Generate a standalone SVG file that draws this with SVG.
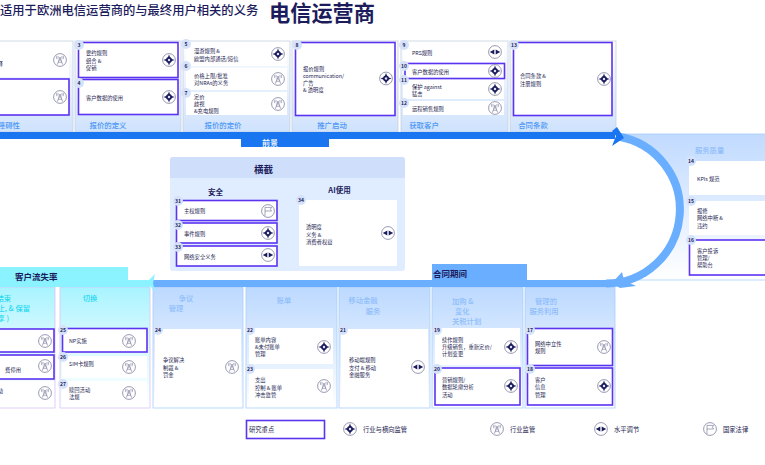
<svg xmlns="http://www.w3.org/2000/svg" width="765" height="465" viewBox="0 0 765 465">
<style>
text{font-family:"Noto Sans CJK SC","Liberation Sans",sans-serif;fill:#23234f}
.t{font-size:5.3px}
.g{font-size:6.3px}
.n{font-size:5px;font-weight:700;text-anchor:middle;fill:#1c1c5c}
.l{font-size:7.4px;font-weight:500;fill:#4c97f5;text-anchor:middle}
.s{font-size:7.3px;font-weight:500;fill:#8fbdfa}
.c{font-size:7.3px;font-weight:500;fill:#28d8f0}
.h{font-size:8.5px;font-weight:700;fill:#1c1c5c}
.w{fill:#fff}
.p{fill:#fff;stroke:#5b33f0;stroke-width:1.6}
.b{fill:#d6e2f9}
.ic{fill:#fff;stroke:#55557f;stroke-width:.6}
.tw{fill:none;stroke:#6b6b90;stroke-width:.6}
</style>
<defs>
<linearGradient id="gt" x1="0" y1="0" x2="0" y2="1"><stop offset="0" stop-color="#fff"/><stop offset="1" stop-color="#cfe2fd"/></linearGradient>
<linearGradient id="gb" x1="0" y1="0" x2="0" y2="1"><stop offset="0" stop-color="#bcd9ff"/><stop offset=".35" stop-color="#d3e6ff"/><stop offset="1" stop-color="#fff"/></linearGradient>
<linearGradient id="gc" x1="0" y1="0" x2="0" y2="1"><stop offset="0" stop-color="#a8f4ff"/><stop offset=".35" stop-color="#cff8ff"/><stop offset="1" stop-color="#fff"/></linearGradient>
<linearGradient id="gr" x1="0" y1="0" x2="0" y2="1"><stop offset="0" stop-color="#c0daff"/><stop offset="1" stop-color="#fff"/></linearGradient>
<symbol id="cmp" viewBox="-7 -7 14 14" overflow="visible"><circle class="ic" r="6.4"/><path fill="#1c1c5c" d="M0-5.6L1.5-1.5 5.6 0 1.5 1.5 0 5.6-1.5 1.5-5.6 0-1.5-1.5Z"/><circle r="2.9" fill="#1c1c5c"/><circle r="1.2" fill="#dfe6fb"/></symbol>
<symbol id="twr" viewBox="-7 -7 14 14" overflow="visible"><circle class="ic" r="6.4"/><path class="tw" d="M0-3L-2.6 4.6M0-3L2.6 4.6M-1.9 2.2H1.9M-1.2 0H1.2M-3-4.2A3.2 3.2 0 0 0-3-.8M3-4.2A3.2 3.2 0 0 1 3-.8M-1.7-3.7A2 2 0 0 0-1.7-1.6M1.7-3.7A2 2 0 0 1 1.7-1.6"/></symbol>
<symbol id="hor" viewBox="-7 -7 14 14" overflow="visible"><circle class="ic" r="6.4"/><path fill="#1c1c5c" d="M-5.2 0L-.7-2.6V2.6ZM5.2 0L.7-2.6V2.6Z"/></symbol>
<symbol id="flg" viewBox="-7 -7 14 14" overflow="visible"><circle class="ic" r="6.4"/><path class="tw" d="M-3 5V-3.6H3.6L2.4-1.8 3.6 0H-3"/></symbol>
</defs>
<rect width="765" height="465" fill="#fff"/>
<text x="0" y="14.5" style="font-size:12.3px;font-weight:500;fill:#1c1c5c">适用于欧洲电信运营商的与最终用户相关的义务</text>
<text x="269" y="21" style="font-size:21.2px;font-weight:700;fill:#1c1c5c">电信运营商</text>

<g id="panels" stroke="#c5cfe0" stroke-width=".8">
<rect x="-5" y="41" width="78" height="91" fill="url(#gt)"/>
<rect x="75" y="41" width="106" height="91" fill="url(#gt)"/>
<rect x="183" y="41" width="107" height="91" fill="url(#gt)"/>
<rect x="292" y="41" width="106" height="91" fill="url(#gt)"/>
<rect x="401" y="41" width="107" height="91" fill="url(#gt)"/>
<rect x="510" y="41" width="106" height="91" fill="url(#gt)"/>
</g>
<rect x="624" y="134" width="146" height="146" fill="url(#gr)" stroke="#a9cdfb" stroke-width=".8"/>
<g stroke-width=".8">
<rect x="-5" y="287" width="60" height="121" fill="url(#gc)" stroke="#d9c4f5"/>
<rect x="60" y="287" width="90" height="121" fill="url(#gc)" stroke="#d9c4f5"/>
<rect x="153" y="287" width="90" height="121" fill="url(#gb)" stroke="#a9cdfb"/>
<rect x="246" y="287" width="91" height="121" fill="url(#gb)" stroke="#a9cdfb"/>
<rect x="339" y="287" width="91" height="121" fill="url(#gb)" stroke="#a9cdfb"/>
<rect x="432" y="287" width="91" height="121" fill="url(#gb)" stroke="#a9cdfb"/>
<rect x="525" y="287" width="90" height="121" fill="url(#gb)" stroke="#a9cdfb"/>
</g>

<g id="column-labels">
<text class="l" x="20" y="128" style="text-anchor:end">障碍性</text>
<text class="l" x="108" y="128">报价的定义</text>
<text class="l" x="223" y="128">报价的定价</text>
<text class="l" x="332" y="128">推广启动</text>
<text class="l" x="424" y="128">获取客户</text>
<text class="l" x="533" y="128">合同条款</text>
<text class="s" x="695" y="153">服务质量</text>
<text class="c" x="11" y="301" style="text-anchor:end">结束</text>
<text class="c" x="30" y="311" style="text-anchor:end">止, &amp; 保留</text>
<text class="c" x="9" y="321" style="text-anchor:end">享 )</text>
<text class="c" x="90" y="301" style="text-anchor:middle">切换</text>
<text class="s" x="186" y="301" style="text-anchor:middle">争议</text>
<text class="s" x="176" y="311" style="text-anchor:middle">管理</text>
<text class="s" x="284" y="303" style="text-anchor:middle">账单</text>
<text class="s" x="363" y="303" style="text-anchor:middle">移动金融</text>
<text class="s" x="373" y="314" style="text-anchor:middle">服务</text>
<text class="s" x="452" y="304">加购 &amp;</text>
<text class="s" x="455" y="314">变化</text>
<text class="s" x="452" y="324">关税计划</text>
<text class="s" x="546" y="304" style="text-anchor:middle">管理的</text>
<text class="s" x="544" y="314" style="text-anchor:middle">服务利用</text>
</g>

<g id="connectors">
<path d="M618 136.500A74 74 0 0 1 606 283.500" fill="#fff" stroke="#6aaeff" stroke-width="8"/>
<path d="M154 283.500H608" fill="none" stroke="#6aaeff" stroke-width="7" stroke-linecap="round"/>
<path d="M622 272L624 280 636 286 620 288 612 283Z" fill="#6aaeff"/>
<path d="M0 135.500H615" fill="none" stroke="#1a76f0" stroke-width="7"/>
<path d="M617 127L624 138 612 146 616 136 612 131Z" fill="#1a76f0"/>
<path d="M0 283.500H150" fill="none" stroke="#8af3ff" stroke-width="7"/>
<path d="M155 274L147 282 155 292 153 283Z" fill="#8af3ff"/>
</g>

<g id="band-tabs">
<rect x="241" y="139" width="88" height="8" fill="#1a76f0"/><text x="262" y="145.500" style="font-size:8px;font-weight:500;fill:#fff">前景</text>
<rect x="432" y="264" width="95" height="20" fill="#6aaeff"/><text x="433" y="277" class="h">合同期间</text>
<rect x="-2" y="267" width="130" height="16" fill="#8af3ff"/><text x="15" y="280" class="h">客户流失率</text>
</g>

<g id="n1"><rect class="w" x="-5" y="42" width="74" height="35"/><text class="t" x="3" y="66" style="text-anchor:end">择</text><use href="#twr" x="53" y="53" width="14" height="14"/></g>
<g id="n2"><rect class="p" x="-5" y="79" width="74" height="36"/><use href="#twr" x="53" y="90" width="14" height="14"/></g>
<g id="n3"><rect class="p" x="78.500" y="42.500" width="99.500" height="35"/><circle class="b" cx="79" cy="45" r="5"/><text class="n" x="79" y="47">3</text><text class="t" x="86" y="55">要约规则</text><text class="t" x="86" y="63">组合 &amp;</text><text class="t" x="86" y="70">促销</text><use href="#cmp" x="162" y="53" width="14" height="14"/></g>
<g id="n4"><rect class="p" x="78.500" y="79.500" width="99.500" height="35"/><circle class="b" cx="79" cy="83" r="5"/><text class="n" x="79" y="85">4</text><text class="t" x="86" y="99.500">客户数据的使用</text><use href="#cmp" x="162" y="90" width="14" height="14"/></g>
<g id="n5"><rect class="w" x="186" y="42" width="101" height="24"/><circle class="b" cx="186" cy="44" r="5"/><text class="n" x="186" y="46">5</text><text class="t" x="194" y="53">漫游规则 &amp;</text><text class="t" x="194" y="60.500">欧盟内部通话/短信</text><use href="#cmp" x="271" y="47" width="14" height="14"/></g>
<g id="n6"><rect class="w" x="186" y="68" width="101" height="22"/><circle class="b" cx="186" cy="66" r="5"/><text class="n" x="186" y="68">6</text><text class="t" x="194" y="78">价格上限/批准</text><text class="t" x="194" y="85">对NRAs的义务</text><use href="#twr" x="271" y="72" width="14" height="14"/></g>
<g id="n7"><rect class="w" x="186" y="92" width="101" height="23"/><circle class="b" cx="186" cy="93" r="5"/><text class="n" x="186" y="95">7</text><text class="t" x="194" y="99">定价</text><text class="t" x="194" y="106">歧视</text><text class="t" x="194" y="113">&amp;充电规则</text><use href="#twr" x="271" y="97" width="14" height="14"/></g>
<g id="n8"><rect class="p" x="295.500" y="42.500" width="99.500" height="73"/><circle class="b" cx="297" cy="45" r="5"/><text class="n" x="297" y="47">8</text><text class="t" x="303" y="71">报价规则</text><text class="t" x="303" y="78">communication/</text><text class="t" x="303" y="85">广告</text><text class="t" x="303" y="92">&amp; 透明度</text><use href="#cmp" x="379" y="71.500" width="14" height="14"/></g>
<g id="n9"><rect class="w" x="403" y="42" width="101" height="20"/><circle class="b" cx="404" cy="45" r="5"/><text class="n" x="404" y="47">9</text><text class="t" x="412" y="55">PRS规则</text><use href="#hor" x="488" y="45" width="14" height="14"/></g>
<g id="n10"><rect class="p" x="405" y="63.500" width="99.500" height="15"/><circle class="b" cx="404" cy="66" r="5"/><text class="n" x="404" y="68">10</text><text class="t" x="412" y="73.500">客户数据的使用</text><use href="#cmp" x="488" y="64" width="14" height="14"/></g>
<g id="n11"><rect class="w" x="403" y="80" width="101" height="19"/><circle class="b" cx="404" cy="80" r="5"/><text class="n" x="404" y="82">11</text><text class="t" x="412" y="89">保护 against</text><text class="t" x="412" y="96">猛击</text><use href="#cmp" x="488" y="82" width="14" height="14"/></g>
<g id="n12"><rect class="w" x="403" y="101" width="101" height="14"/><circle class="b" cx="404" cy="103" r="5"/><text class="n" x="404" y="105">12</text><text class="t" x="412" y="111">远程销售规则</text><use href="#twr" x="488" y="101" width="14" height="14"/></g>
<g id="n13"><rect class="p" x="513.500" y="42.500" width="98.500" height="73"/><circle class="b" cx="514" cy="45" r="5"/><text class="n" x="514" y="47">13</text><text class="t" x="520" y="78">合同条款 &amp;</text><text class="t" x="520" y="86">注册规则</text><use href="#cmp" x="597" y="72" width="14" height="14"/></g>

<g id="n14"><rect class="w" x="689" y="161" width="80" height="34"/><circle class="b" cx="691" cy="161" r="5"/><text class="n" x="691" y="163">14</text><text class="t" x="697" y="181">KPIs 规范</text></g>
<g id="n15"><rect class="w" x="689" y="201" width="80" height="34"/><circle class="b" cx="691" cy="201" r="5"/><text class="n" x="691" y="203">15</text><text class="t" x="697" y="213">报修</text><text class="t" x="697" y="220">网络中断 &amp;</text><text class="t" x="697" y="228">违约</text></g>
<g id="n16"><rect class="p" x="689.500" y="240" width="80" height="35"/><circle class="b" cx="691" cy="240" r="5"/><text class="n" x="691" y="242">16</text><text class="t" x="697" y="253">客户投诉</text><text class="t" x="697" y="260">管理/</text><text class="t" x="697" y="267">帮助台</text></g>

<g id="crosscut">
<rect x="170" y="157" width="235" height="114" rx="3" fill="#e0ecff"/>
<path d="M170 178V160a3 3 0 0 1 3-3H402a3 3 0 0 1 3 3V178Z" fill="#cfdffb"/>
<text x="263.500" y="172.500" class="h" style="text-anchor:middle;font-size:9.500px">横截</text>
<text x="215.500" y="195" class="h" style="text-anchor:middle;font-size:7.500px">安全</text>
<text x="339.500" y="193" class="h" style="text-anchor:middle;font-size:7.500px">AI使用</text>
</g>
<g id="n31"><rect class="p" x="176.500" y="200.500" width="100.500" height="20"/><circle class="b" cx="178" cy="201" r="5"/><text class="n" x="178" y="203">31</text><text class="t" x="184" y="213">主权规则</text><use href="#flg" x="261" y="204" width="14" height="14"/></g>
<g id="n32"><rect class="p" x="176.500" y="223" width="100.500" height="20"/><circle class="b" cx="178" cy="225" r="5"/><text class="n" x="178" y="227">32</text><text class="t" x="184" y="236">事件规则</text><use href="#cmp" x="261" y="226" width="14" height="14"/></g>
<g id="n33"><rect class="p" x="176.500" y="246" width="100.500" height="20"/><circle class="b" cx="178" cy="247" r="5"/><text class="n" x="178" y="249">33</text><text class="t" x="184" y="258.500">网络安全义务</text><use href="#hor" x="261" y="248" width="14" height="14"/></g>
<g id="n34"><rect class="w" x="299" y="200" width="98" height="66"/><circle class="b" cx="301" cy="200" r="5"/><text class="n" x="301" y="202">34</text><text class="t" x="306" y="229">透明度</text><text class="t" x="306" y="236.500">义务 &amp;</text><text class="t" x="306" y="243.500">消费者权益</text><use href="#hor" x="381" y="226" width="14" height="14"/></g>

<g id="na1"><rect class="p" x="-5" y="329" width="59" height="23"/><use href="#twr" x="38" y="334" width="14" height="14"/></g>
<g id="na2"><rect class="p" x="-5" y="355" width="59" height="24"/><text class="t" x="21" y="372" style="text-anchor:end">费停用</text><use href="#twr" x="38" y="359" width="14" height="14"/></g>
<g id="na3"><rect class="w" x="-5" y="381" width="59" height="24"/><text class="t" x="3" y="393" style="text-anchor:end">动</text><use href="#twr" x="38" y="386" width="14" height="14"/></g>
<g id="n25"><rect class="p" x="62.500" y="328.500" width="84.500" height="23.500"/><circle class="b" cx="63" cy="330" r="5"/><text class="n" x="63" y="332">25</text><text class="t" x="69" y="343">NP实施</text><use href="#twr" x="122" y="334" width="14" height="14"/></g>
<g id="n26"><rect class="w" x="62" y="356" width="85" height="22"/><circle class="b" cx="63" cy="357" r="5"/><text class="n" x="63" y="359">26</text><text class="t" x="69" y="366">SIM卡规则</text><use href="#twr" x="122" y="360" width="14" height="14"/></g>
<g id="n27"><rect class="w" x="62" y="381" width="85" height="24"/><circle class="b" cx="63" cy="384" r="5"/><text class="n" x="63" y="386">27</text><text class="t" x="69" y="392">赎回活动</text><text class="t" x="69" y="399">法规</text><use href="#twr" x="122" y="386" width="14" height="14"/></g>
<g id="n24"><rect class="w" x="155" y="329" width="86" height="76"/><circle class="b" cx="158" cy="330" r="5"/><text class="n" x="158" y="332">24</text><text class="t" x="163" y="362">争议解决</text><text class="t" x="163" y="370">制裁 &amp;</text><text class="t" x="163" y="377">罚金</text><use href="#twr" x="225" y="360" width="14" height="14"/></g>
<g id="n22"><rect class="w" x="249" y="328" width="84" height="36"/><circle class="b" cx="250" cy="330" r="5"/><text class="n" x="250" y="332">22</text><text class="t" x="255" y="342">账单内容</text><text class="t" x="255" y="349">&amp;未付账单</text><text class="t" x="255" y="356">管理</text><use href="#cmp" x="317" y="340" width="14" height="14"/></g>
<g id="n23"><rect class="w" x="249" y="369" width="84" height="36"/><circle class="b" cx="250" cy="369" r="5"/><text class="n" x="250" y="371">23</text><text class="t" x="255" y="382">支出</text><text class="t" x="255" y="390">控制 &amp; 账单</text><text class="t" x="255" y="397">冲击监管</text><use href="#twr" x="317" y="379" width="14" height="14"/></g>
<g id="n21"><rect class="w" x="341" y="329" width="87" height="76"/><circle class="b" cx="343" cy="330" r="5"/><text class="n" x="343" y="332">21</text><text class="t" x="349" y="362">移动端规则</text><text class="t" x="349" y="370">支付 &amp; 移动</text><text class="t" x="349" y="377">金融服务</text><use href="#hor" x="411" y="360" width="14" height="14"/></g>
<g id="n19"><rect class="w" x="435" y="328" width="85" height="37"/><circle class="b" cx="437" cy="330" r="5"/><text class="n" x="437" y="332">19</text><text class="t" x="442" y="342">续作规则</text><text class="t" x="442" y="349">升级销售，重新定价/</text><text class="t" x="442" y="356">计划变更</text><use href="#cmp" x="504" y="340" width="14" height="14"/></g>
<g id="n20"><rect class="p" x="435" y="368" width="85" height="37"/><circle class="b" cx="437" cy="369" r="5"/><text class="n" x="437" y="371">20</text><text class="t" x="442" y="382">营销规则/</text><text class="t" x="442" y="389">数据轮廓分析</text><text class="t" x="442" y="397">活动</text><use href="#cmp" x="504" y="379" width="14" height="14"/></g>
<g id="n17"><rect class="p" x="527.500" y="328.500" width="85" height="37"/><circle class="b" cx="530" cy="330" r="5"/><text class="n" x="530" y="332">17</text><text class="t" x="535" y="346">网络中立性</text><text class="t" x="535" y="353">规则</text><use href="#twr" x="597" y="340" width="14" height="14"/></g>
<g id="n18"><rect class="p" x="527.500" y="368" width="85" height="37"/><circle class="b" cx="530" cy="369" r="5"/><text class="n" x="530" y="371">18</text><text class="t" x="535" y="382">客户</text><text class="t" x="535" y="389">信息</text><text class="t" x="535" y="397">管理</text><use href="#cmp" x="597" y="379" width="14" height="14"/></g>

<g id="legend">
<rect class="p" x="246.500" y="420.500" width="78" height="18"/><text class="g" x="249" y="432">研究重点</text>
<use href="#cmp" x="343" y="422" width="14" height="14"/><text class="g" x="363" y="431.500">行业与横向监管</text>
<use href="#twr" x="490" y="422" width="14" height="14"/><text class="g" x="510" y="431.500">行业监管</text>
<use href="#hor" x="594" y="422" width="14" height="14"/><text class="g" x="614" y="431.500">水平调节</text>
<use href="#flg" x="703" y="422" width="14" height="14"/><text class="g" x="723" y="431.500">国家法律</text>
</g>
</svg>
